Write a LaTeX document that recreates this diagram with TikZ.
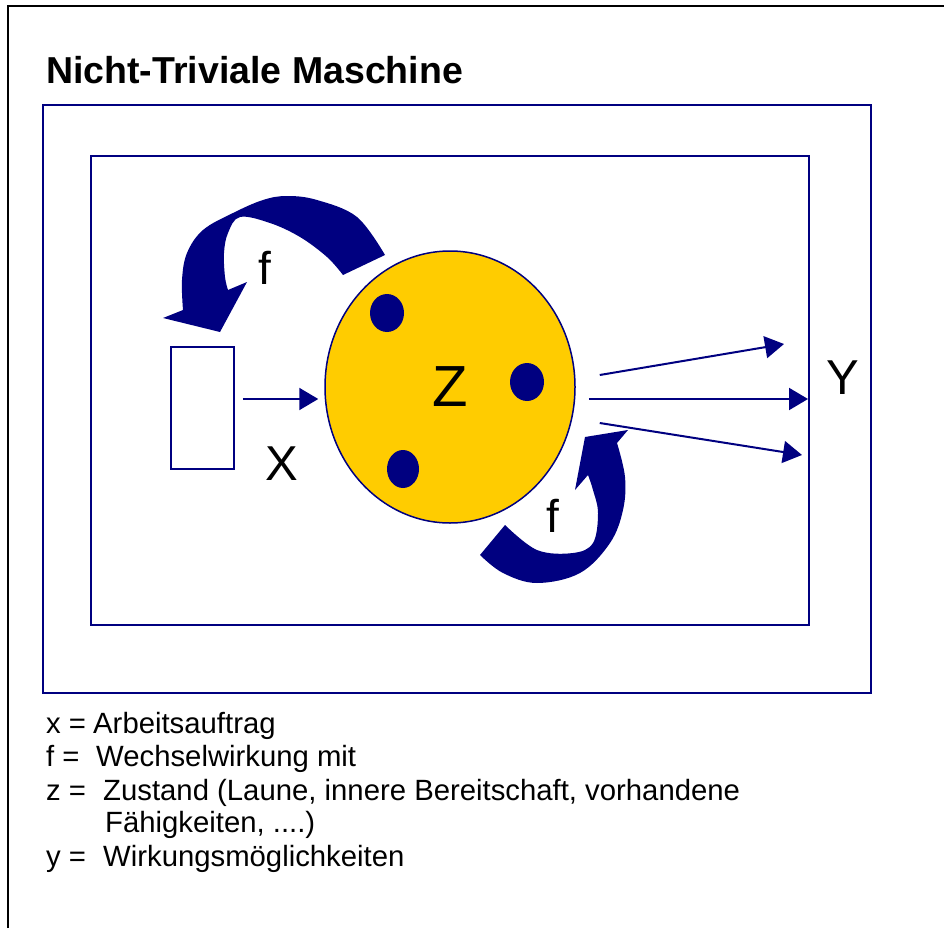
\documentclass[tikz,border=0pt]{standalone}
\usepackage{fontspec}
\setmainfont{Liberation Sans}
\usetikzlibrary{arrows.meta,shapes.geometric}

\definecolor{dunkelblau}{RGB}{0,0,128}
\definecolor{gelb}{RGB}{255,204,0}

\newcommand{\legende}{\fontsize{29.3}{34}\selectfont}

\tikzset{
    rahmen/.style={draw=dunkelblau, line width=2pt},
    pfeil/.style={draw=dunkelblau, line width=2pt, -{Triangle[length=19pt,width=22pt]}},
    kurvpfeil/.style={fill=dunkelblau},
    punkt/.style={fill=dunkelblau},
    zeile/.style={anchor=base west, inner sep=0pt, font=\legende},
}

\begin{document}
\begin{tikzpicture}[x=1pt,y=-1pt]

        \useasboundingbox (0,0) rectangle (944,928);

        % page frame, cut off at the right and at the bottom
        \draw[line width=2pt] (8,928) -- (8,6) -- (944,6);

        \node[zeile, font=\bfseries\fontsize{37.5}{40}\selectfont] (titel) at (46,84) {Nicht-Triviale Maschine};

        % outer and inner box
        \draw[rahmen] (43,105) rectangle (871,693);
        \draw[rahmen] (91,156) rectangle (809,625);

        % input and state
        \node[draw=dunkelblau, line width=1.5pt, minimum width=63pt, minimum height=122pt, inner sep=0pt] (eingang) at (202.5,408) {};
        \node[ellipse, draw=dunkelblau, fill=gelb, line width=1.5pt, minimum width=250pt, minimum height=272pt, inner sep=0pt,
              font=\fontsize{58}{60}\selectfont] (zustand) at (450,387) {Z};

        \fill[punkt] (387,313) ellipse [x radius=17, y radius=19];
        \fill[punkt] (527,382) ellipse [x radius=17, y radius=19];
        \fill[punkt] (403,469) ellipse [x radius=16, y radius=19];

        \draw[pfeil] ([shift={(8,-9)}]eingang.east) -- ([shift={(-6,12)}]zustand.west);
        \node[anchor=base, font=\fontsize{49}{50}\selectfont] (x) at (282,480) {X};

        % outputs
        \coordinate (aus1) at (784,344);
        \coordinate (aus2) at (808,399);
        \coordinate (aus3) at (802,455);
        \draw[pfeil] ([shift={(24,-12)}]zustand.east) -- (aus1);
        \draw[pfeil] ([shift={(13,12)}]zustand.east) -- (aus2);
        \draw[pfeil] ([shift={(24,36)}]zustand.east) -- (aus3);
        \node[anchor=base, font=\fontsize{49}{50}\selectfont] (y) at (843,394) {Y};

        % feedback arrows
        \fill[kurvpfeil] plot[smooth, tension=0.6] coordinates {(385,255) (357,217) (317,200) (287,196) (263,200) (233,213) (203,230) (187,253) (182,280) (183,310)}
            -- (163,318) -- (220,332) -- (247,282)
            -- plot[smooth, tension=0.6] coordinates {(228,290) (225,277) (224,253) (228,233) (240,217) (270,223) (300,237) (327,257) (343,275)}
            -- cycle;
        \node[anchor=base, font=\fontsize{46}{48}\selectfont] (f1) at (265,284) {f};

        \fill[kurvpfeil] plot[smooth, tension=0.6] coordinates {(505,525) (537,550) (573,553) (593,543) (598,513) (593,490) (588,475)}
            -- (575,490) -- (585,437) -- (628,430)
            -- plot[smooth, tension=0.6] coordinates {(617,443) (625,477) (623,510) (610,543) (580,573) (537,583) (503,573) (480,555)}
            -- cycle;
        \node[anchor=base, font=\fontsize{46}{48}\selectfont] (f2) at (553,532) {f};

        % legend
        \node[zeile] (lx) at (46,733) {x =};
        \node[zeile] at (93,733) {Arbeitsauftrag};
        \node[zeile] (lf) at (46,766) {f =};
        \node[zeile] at (96,766) {Wechselwirkung mit};
        \node[zeile] (lz) at (46,800) {z =};
        \node[zeile] at (103,800) {Zustand (Laune, innere Bereitschaft, vorhandene};
        \node[zeile] at (105,832) {Fähigkeiten, ....)};
        \node[zeile] (ly) at (46,866) {y =};
        \node[zeile] at (103,866) {Wirkungsmöglichkeiten};

    \end{tikzpicture}
\end{document}
